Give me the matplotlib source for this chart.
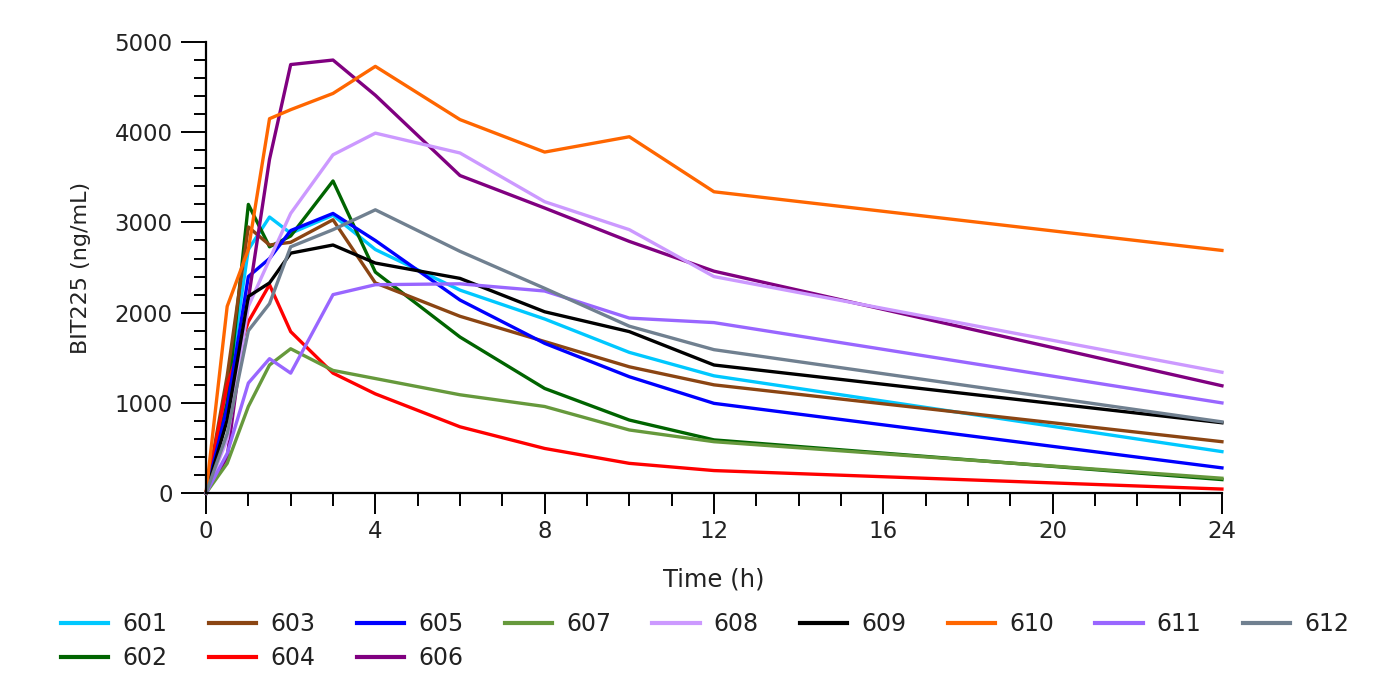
import matplotlib
matplotlib.use("Agg")
import matplotlib.pyplot as plt
from matplotlib.ticker import MultipleLocator

# sampling times (h)
times = [0, 0.5, 1, 1.5, 2, 3, 4, 6, 8, 10, 12, 24]

# BIT225 concentration (ng/mL) per subject
s601 = [0, 1100, 2700, 3060, 2880, 3080, 2700, 2250, 1930, 1560, 1300, 460]
s602 = [0, 1000, 3200, 2730, 2850, 3460, 2450, 1730, 1160, 810, 590, 150]
s603 = [0, 1300, 2950, 2750, 2780, 3030, 2330, 1960, 1680, 1400, 1200, 570]
s604 = [0, 1200, 1900, 2310, 1790, 1330, 1100, 735, 495, 330, 250, 45]
s605 = [0, 950, 2400, 2600, 2910, 3100, 2800, 2140, 1660, 1290, 995, 280]
s606 = [0, 400, 2150, 3700, 4750, 4800, 4410, 3520, 3160, 2790, 2460, 1190]
s607 = [0, 330, 960, 1420, 1600, 1360, 1270, 1090, 960, 700, 570, 165]
s608 = [0, 600, 2070, 2590, 3100, 3750, 3990, 3770, 3230, 2920, 2400, 1340]
s609 = [0, 810, 2180, 2330, 2660, 2750, 2550, 2380, 2010, 1790, 1420, 780]
s610 = [0, 2070, 2700, 4150, 4250, 4430, 4730, 4140, 3780, 3950, 3340, 2690]
s611 = [0, 440, 1220, 1490, 1330, 2200, 2310, 2320, 2240, 1940, 1890, 1000]
s612 = [0, 660, 1800, 2100, 2730, 2920, 3140, 2680, 2270, 1850, 1590, 790]

subjects = ["601", "602", "603", "604", "605", "606",
            "607", "608", "609", "610", "611", "612"]
series = [s601, s602, s603, s604, s605, s606,
          s607, s608, s609, s610, s611, s612]
colors = ["#00C8FF", "#006400", "#8B4513", "#FF0000", "#0000FF", "#800080",
          "#66993C", "#CC99FF", "#000000", "#FF6600", "#9966FF", "#708090"]

plt.rcParams['font.family'] = ['DejaVu Sans']
text_col = "#222222"

fig = plt.figure(figsize=(13.79, 6.83), dpi=100)
ax = fig.add_axes([0.1494, 0.278, 0.7367, 0.6605])

for name, vals, col in zip(subjects, series, colors):
    ax.plot(times, vals, color=col, linewidth=2.4, label=name, clip_on=False)

ax.set_xlim(0, 24)
ax.set_ylim(0, 5000)
ax.xaxis.set_major_locator(MultipleLocator(4))
ax.xaxis.set_minor_locator(MultipleLocator(1))
ax.yaxis.set_major_locator(MultipleLocator(1000))
ax.yaxis.set_minor_locator(MultipleLocator(200))

for side in ["top", "right"]:
    ax.spines[side].set_visible(False)
for side in ["left", "bottom"]:
    ax.spines[side].set_linewidth(1.6)

ax.tick_params(which="both", width=1.4, colors="black", labelsize=16.5,
               labelcolor=text_col)
ax.tick_params(axis="x", which="major", length=15, pad=4)
ax.tick_params(axis="y", which="major", length=18, pad=6)
ax.tick_params(axis="both", which="minor", length=9)

ax.set_xlabel("Time (h)", fontsize=17.5, color=text_col, labelpad=18)
ax.set_ylabel("BIT225 (ng/mL)", fontsize=16, color=text_col, labelpad=17)

fig.legend(loc="upper left", bbox_to_anchor=(0.029, 0.1345), ncol=9, frameon=False,
           fontsize=17, handlelength=2.0, handletextpad=0.6, columnspacing=1.75,
           labelspacing=0.42, labelcolor=text_col)
for line in fig.legends[0].get_lines():
    line.set_linewidth(3.0)

fig.savefig("out.png", dpi=100)
